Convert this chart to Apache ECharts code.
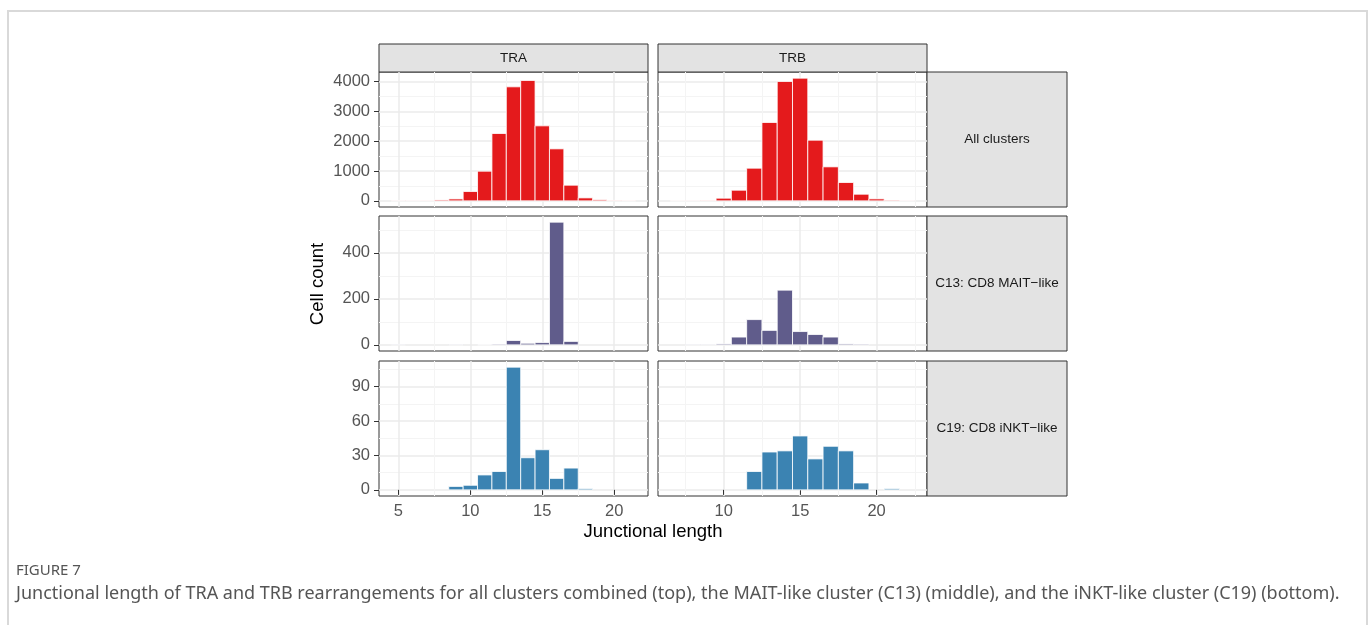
<!DOCTYPE html>
<html>
<head>
<meta charset="utf-8">
<script src="https://cdn.jsdelivr.net/npm/echarts@6/dist/echarts.min.js"></script>
<style>
html, body { margin: 0; padding: 0; background: #fff; }
#chart { width: 1372px; height: 625px; }
</style>
</head>
<body>
<div id="chart"></div>
<script>
// histogram bins are centred on whole junctional lengths
const traStart = 5
const trbStart = 7

// counts per bin
const traAll = [5, 5, 10, 30, 65, 313, 994, 2257, 3821, 4034, 2514, 1743, 525, 100, 35, 15, 8]
const trbAll = [3, 5, 15, 90, 357, 1095, 2626, 4000, 4112, 2034, 1140, 615, 223, 67, 22, 5]
const traMait = [2, 0, 0, 0, 2, 0, 1, 3, 19, 7, 10, 534, 15, 0, 0, 0, 0]
const trbMait = [0, 2, 2, 4, 34, 110, 63, 238, 58, 45, 34, 4, 3, 0, 0, 0]
const traInkt = [0, 0, 0, 0, 3, 4, 13, 16, 107, 28, 35, 10, 19, 1, 0, 0, 0]
const trbInkt = [0, 0, 0, 0, 0, 16, 33, 34, 47, 27, 38, 34, 6, 0, 1, 0]

const colNames = ['TRA', 'TRB']
const rowNames = ['All clusters', 'C13: CD8 MAIT\u2212like', 'C19: CD8 iNKT\u2212like']

const xTicks = [[5, 10, 15, 20], [10, 15, 20]]
const xMinor = [[7.5, 12.5, 17.5], [7.5, 12.5, 17.5, 22.5]]
const yTicks = [[0, 1000, 2000, 3000, 4000], [0, 200, 400], [0, 30, 60, 90]]
const yMinor = [[500, 1500, 2500, 3500], [100, 300, 500], [15, 45, 75, 105]]

const rowColors = ['#E41A1C', '#605C8B', '#3B83B2']

const panels = [
  [traAll, trbAll],
  [traMait, trbMait],
  [traInkt, trbInkt]
]
const starts = [traStart, trbStart]

// layout
const colLeft = [379, 658]
const colWidth = 269
const rowTop = [72, 216, 361]
const rowHeight = 135
const stripRight = 140

let myChart = echarts.init(document.getElementById('chart'))

const grids = []
const xAxes = []
const yAxes = []
const series = []

// free x per column, free y per row, 5% expansion like ggplot
const xRange = starts.map((s, c) => {
  const lo = s - 0.5
  const hi = s + panels[0][c].length - 0.5
  const pad = (hi - lo) * 0.05
  return [lo - pad, hi + pad]
})
const yRange = panels.map(row => {
  const m = Math.max(...row[0], ...row[1])
  return [-m * 0.05, m * 1.05]
})

const tickFont = { fontSize: 16.5, color: '#555', fontFamily: 'Liberation Sans' }

for (let r = 0; r < 3; r++) {
  for (let c = 0; c < 2; c++) {
    const p = r * 2 + c
    const bottom = r === 2
    grids.push({
      left: colLeft[c],
      top: rowTop[r],
      width: colWidth,
      height: rowHeight,
      show: true,
      backgroundColor: '#fff',
      borderColor: '#333',
      borderWidth: 1
    })
    xAxes.push({
      type: 'value',
      gridIndex: p,
      min: xRange[c][0],
      max: xRange[c][1],
      axisLine: { show: false },
      axisTick: { show: bottom, customValues: xTicks[c], length: 5, lineStyle: { color: '#333' } },
      axisLabel: Object.assign({ show: bottom, customValues: xTicks[c], margin: 7, formatter: v => String(v) }, tickFont),
      splitLine: { show: true, lineStyle: { color: '#EBEBEB', width: 1.5 } }
    })
    xAxes.push({
      type: 'value',
      gridIndex: p,
      min: xRange[c][0],
      max: xRange[c][1],
      axisLine: { show: false },
      axisTick: { show: false, customValues: xMinor[c] },
      axisLabel: { show: false },
      splitLine: { show: true, lineStyle: { color: '#F4F4F4', width: 1 } }
    })
    yAxes.push({
      type: 'value',
      gridIndex: p,
      min: yRange[r][0],
      max: yRange[r][1],
      axisLine: { show: false },
      axisTick: { show: c === 0, customValues: yTicks[r], length: 5, lineStyle: { color: '#333' } },
      axisLabel: Object.assign({ show: c === 0, customValues: yTicks[r], margin: 9, formatter: v => String(v) }, tickFont),
      splitLine: { show: true, lineStyle: { color: '#EBEBEB', width: 1.5 } }
    })
    yAxes.push({
      type: 'value',
      gridIndex: p,
      min: yRange[r][0],
      max: yRange[r][1],
      axisLine: { show: false },
      axisTick: { show: false, customValues: yMinor[r] },
      axisLabel: { show: false },
      splitLine: { show: true, lineStyle: { color: '#F4F4F4', width: 1 } }
    })
    const color = rowColors[r]
    series.push({
      type: 'custom',
      xAxisIndex: p * 2,
      yAxisIndex: p * 2,
      silent: true,
      animation: false,
      data: panels[r][c].map((v, i) => [starts[c] + i, v]).filter(d => d[1] > 0),
      renderItem: function (params, api) {
        const x = api.value(0)
        const y = api.value(1)
        const a = api.coord([x - 0.5, 0])
        const b = api.coord([x + 0.5, y])
        return {
          type: 'rect',
          shape: { x: a[0], y: b[1], width: b[0] - a[0], height: a[1] - b[1] },
          style: { fill: color, stroke: '#fff', lineWidth: 0.8 }
        }
      }
    })
  }
}

const stripFont = '13.5px "Liberation Sans"'
const graphics = [
  // figure frame
  { type: 'rect', shape: { x: 8, y: 11, width: 1359, height: 700 }, style: { fill: 'none', stroke: '#d9d9d9', lineWidth: 2 } }
]
colNames.forEach((name, c) => {
  graphics.push({ type: 'rect', shape: { x: colLeft[c], y: 44, width: colWidth, height: 28 }, style: { fill: '#E3E3E3', stroke: '#333', lineWidth: 1 } })
  graphics.push({ type: 'text', x: colLeft[c] + colWidth / 2, y: 58, style: { text: name, font: stripFont, fill: '#1a1a1a', align: 'center', verticalAlign: 'middle', textAlign: 'center', textVerticalAlign: 'middle' } })
})
rowNames.forEach((name, r) => {
  const x0 = colLeft[1] + colWidth
  graphics.push({ type: 'rect', shape: { x: x0, y: rowTop[r], width: stripRight, height: rowHeight }, style: { fill: '#E3E3E3', stroke: '#333', lineWidth: 1 } })
  graphics.push({ type: 'text', x: x0 + stripRight / 2, y: rowTop[r] + rowHeight / 2, style: { text: name, font: stripFont, fill: '#1a1a1a', align: 'center', verticalAlign: 'middle', textAlign: 'center', textVerticalAlign: 'middle' } })
})
graphics.push({ type: 'text', x: 653, y: 532, style: { text: 'Junctional length', font: '18.5px "Liberation Sans"', fill: '#000', align: 'center', verticalAlign: 'middle', textAlign: 'center', textVerticalAlign: 'middle' } })
graphics.push({ type: 'text', x: 318, y: 284, rotation: Math.PI / 2, style: { text: 'Cell count', font: '18.5px "Liberation Sans"', fill: '#000', align: 'center', verticalAlign: 'middle', textAlign: 'center', textVerticalAlign: 'middle' } })
graphics.push({ type: 'text', x: 16, y: 571, style: { text: 'FIGURE 7', font: '15px "Noto Sans"', fill: '#555', align: 'left', verticalAlign: 'middle', textAlign: 'left', textVerticalAlign: 'middle' } })
graphics.push({ type: 'text', x: 16, y: 594, style: { text: 'Junctional length of TRA and TRB rearrangements for all clusters combined (top), the MAIT-like cluster (C13) (middle), and the iNKT-like cluster (C19) (bottom).', font: '18px "Noto Sans"', fill: '#555', align: 'left', verticalAlign: 'middle', textAlign: 'left', textVerticalAlign: 'middle' } })

let option = {
  animation: false,
  grid: grids,
  xAxis: xAxes,
  yAxis: yAxes,
  series: series,
  graphic: { elements: graphics }
}
myChart.setOption(option, true)
</script>
</body>
</html>
